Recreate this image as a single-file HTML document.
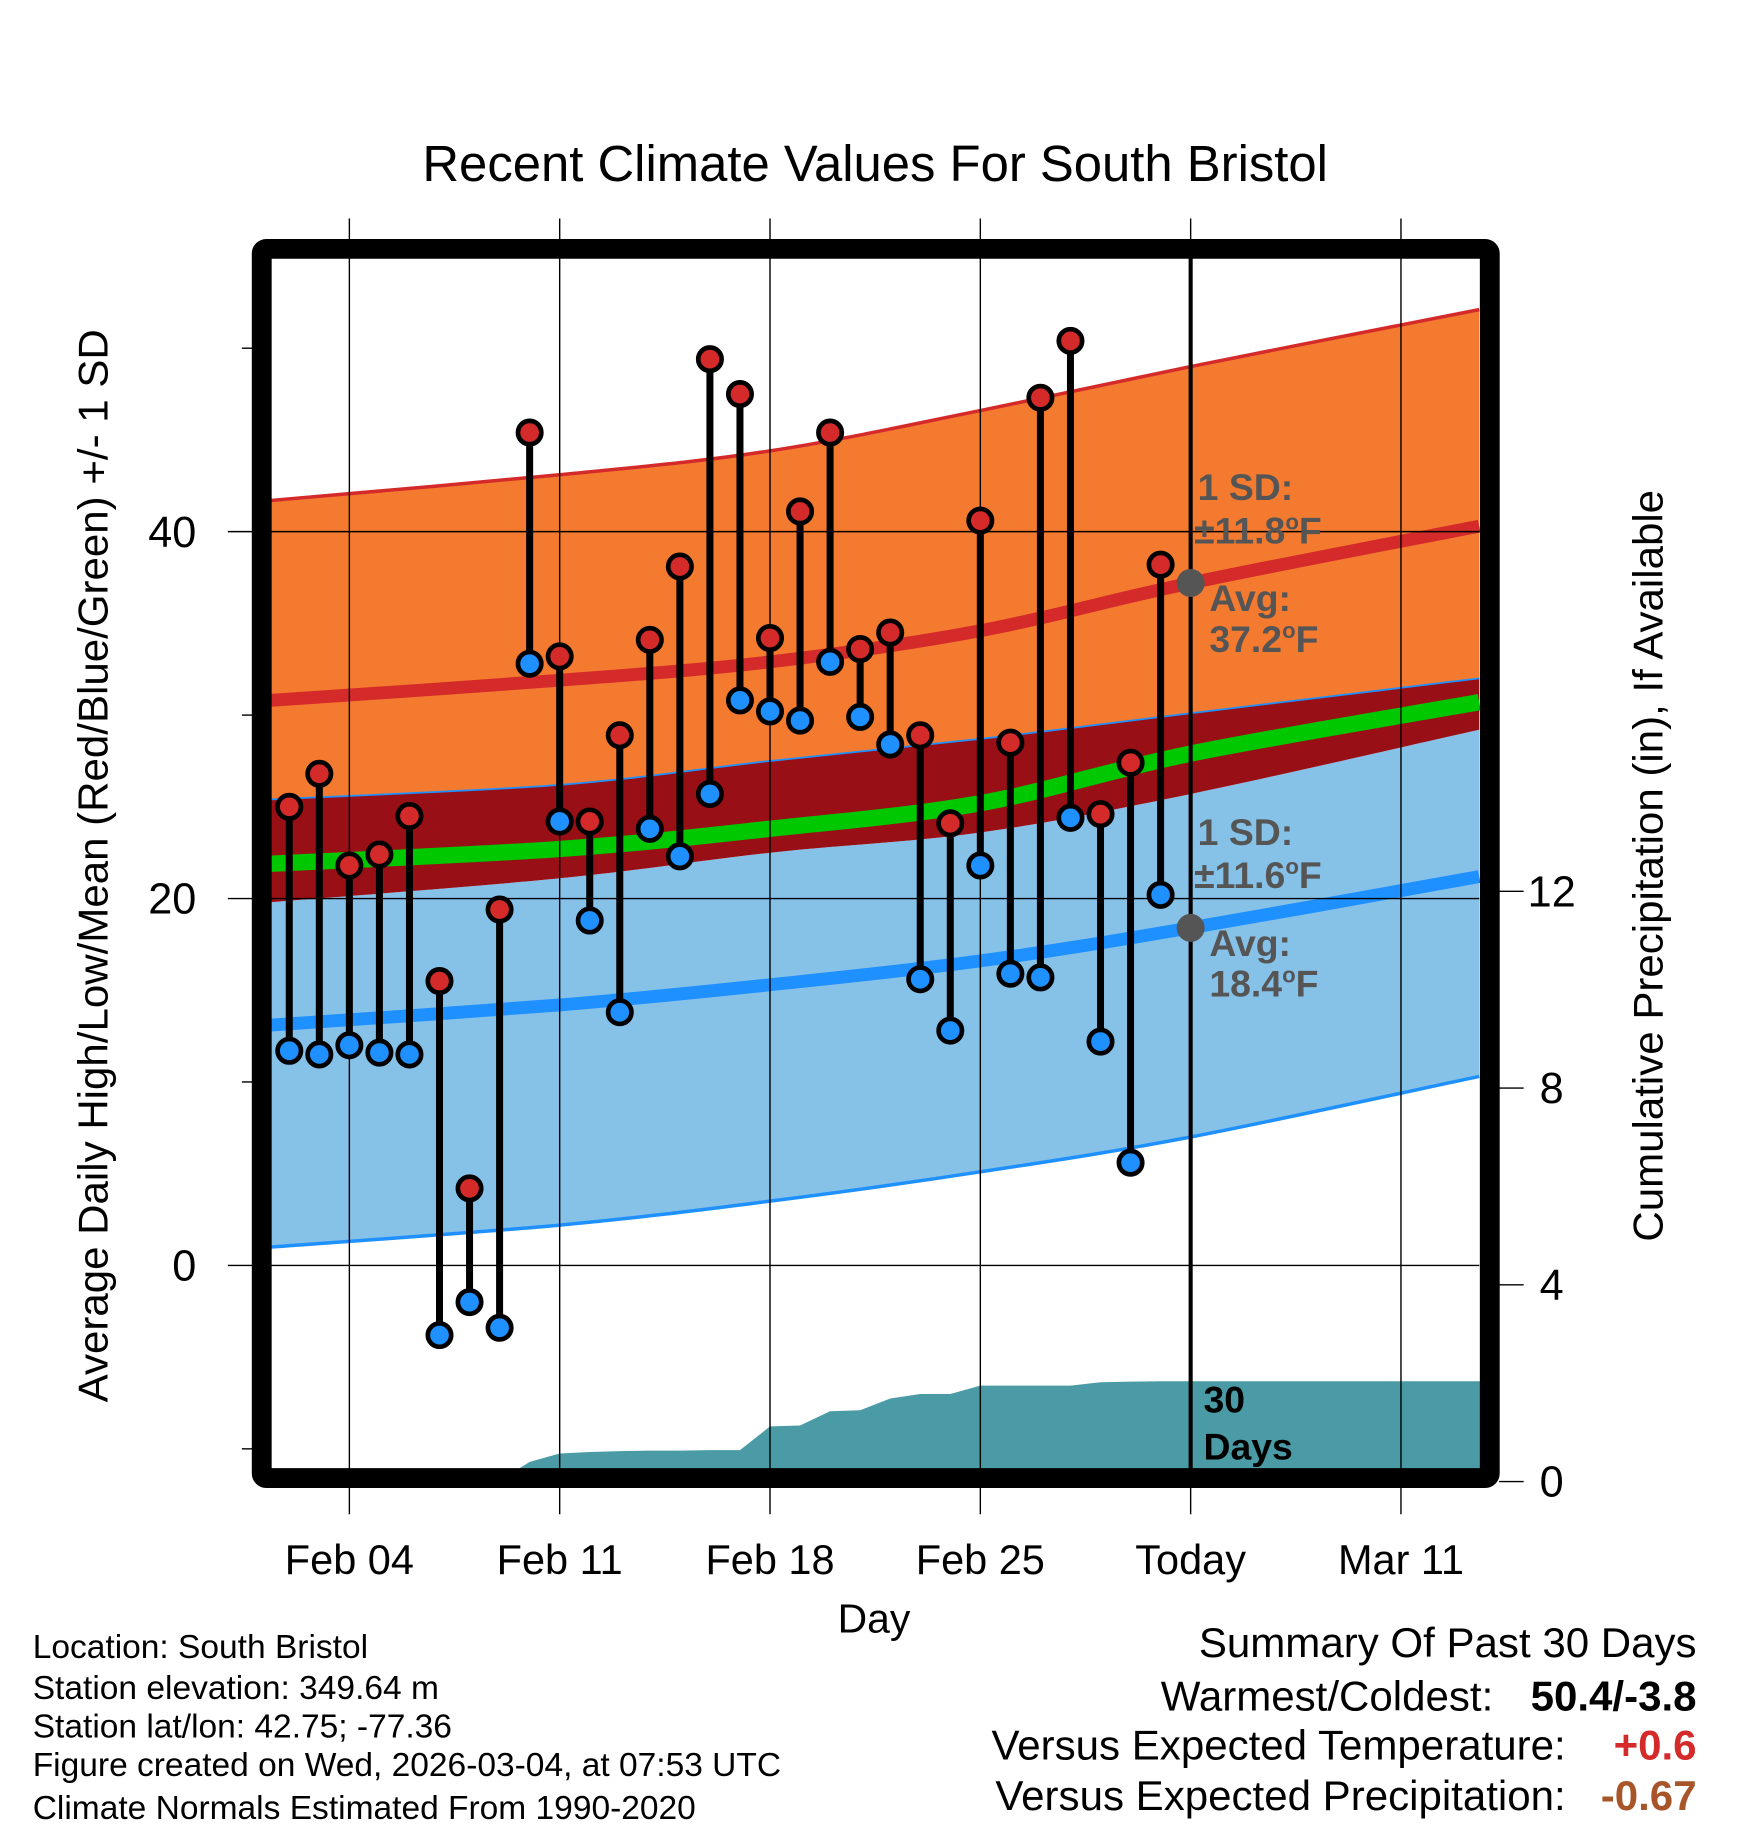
<!DOCTYPE html>
<html><head><meta charset="utf-8"><style>
html,body{margin:0;padding:0;background:#fff}
svg{display:block;font-family:"Liberation Sans",Arial,sans-serif}
</style></head><body>
<svg id="chart" width="1748" height="1828" viewBox="0 0 1496 1564.5" preserveAspectRatio="none" xmlns="http://www.w3.org/2000/svg">
<defs><clipPath id="plotclip"><rect x="232" y="221" width="1035" height="1036"/></clipPath></defs>
<g id="bands" clip-path="url(#plotclip)"></g>
<g id="grid"></g>
<g id="marks" clip-path="url(#plotclip)"></g>
<g id="annot"></g>
<rect x="224" y="213" width="1051" height="1052" rx="4" fill="none" stroke="#000" stroke-width="17"/>
<g id="axes"></g>
<text x="749" y="155" font-size="43.5" text-anchor="middle">Recent Climate Values For South Bristol</text>
<text transform="translate(92,741) rotate(-90)" font-size="36" text-anchor="middle">Average Daily High/Low/Mean (Red/Blue/Green) +/- 1 SD</text>
<text transform="translate(1423,741) rotate(-90)" font-size="36" text-anchor="middle">Cumulative Precipitation (in), If Available</text>
<text x="748" y="1397" font-size="35" text-anchor="middle">Day</text>
<g font-size="28.7">
<text x="28" y="1419">Location: South Bristol</text>
<text x="28" y="1454">Station elevation: 349.64 m</text>
<text x="28" y="1487">Station lat/lon: 42.75; -77.36</text>
<text x="28" y="1520">Figure created on Wed, 2026-03-04, at 07:53 UTC</text>
<text x="28" y="1557">Climate Normals Estimated From 1990-2020</text>
</g>
<g font-size="36">
<text x="1452" y="1418" text-anchor="end">Summary Of Past 30 Days</text>
<text x="1278" y="1464" text-anchor="end">Warmest/Coldest:</text>
<text x="1452" y="1464" text-anchor="end" font-weight="bold">50.4/-3.8</text>
<text x="1340" y="1506" text-anchor="end">Versus Expected Temperature:</text>
<text x="1452" y="1506" text-anchor="end" font-weight="bold" fill="#d42a2a">+0.6</text>
<text x="1340" y="1549" text-anchor="end">Versus Expected Precipitation:</text>
<text x="1452" y="1549" text-anchor="end" font-weight="bold" fill="#a8552a">-0.67</text>
</g>
</svg>
<script>
const dataDays = [-2,-1,0,1,2,3,4,5,6,7,8,9,10,11,12,13,14,15,16,17,18,19,20,21,22,23,24,25,26,27];
const highs = [25.0,26.8,21.8,22.4,24.5,15.5,4.2,19.4,45.4,33.2,24.2,28.9,34.1,38.1,49.4,47.5,34.2,41.1,45.4,33.6,34.5,28.9,24.1,40.6,28.5,47.3,50.4,24.6,27.4,38.2];
const lows = [11.7,11.5,12.0,11.6,11.5,-3.8,-2.0,-3.4,32.8,24.2,18.8,13.8,23.8,22.3,25.7,30.8,30.2,29.7,32.9,29.9,28.4,15.6,12.8,21.8,15.9,15.7,24.4,12.2,5.6,20.2];
const precip = [0,0,0,0,0,0,0,0.02,0.4,0.57,0.6,0.62,0.63,0.63,0.64,0.64,1.12,1.14,1.43,1.45,1.69,1.78,1.78,1.95,1.95,1.95,1.95,2.02,2.03,2.04];
const normDays = [-2.6,7,14,21,28,37.6];
const highUpper = [41.7,43.1,44.4,46.6,49.0,52.1];
const highMean = [30.8,31.9,32.9,34.6,37.2,40.3];
const highLower = [25.4,26.2,27.5,28.7,30.1,32.0];
const meanLine = [21.9,22.7,23.8,25.2,27.9,30.7];
const lowUpper = [19.8,21.1,22.5,23.6,25.7,29.2];
const lowMean = [13.1,14.2,15.3,16.6,18.4,21.2];
const lowLower = [1.0,2.2,3.5,5.1,7.0,10.3];
const xTickDays = [0,7,14,21,28,35];
const xTickLabels = ["Feb 04","Feb 11","Feb 18","Feb 25","Today","Mar 11"];
const yTicks = [0,20,40];
const yMinor = [-10,10,30,50];
const y2Ticks = [0,4,8,12];

const NS="http://www.w3.org/2000/svg";
const X = d => 299 + d*180/7;
const Y = t => 1083 - t*15.7;
const YP = p => 1268 - p*42.1;
function mk(parent, tag, attrs){const e=document.createElementNS(NS,tag);for(const k in attrs)e.setAttribute(k,attrs[k]);document.getElementById(parent).appendChild(e);return e;}
function pts(days, vals, f){return days.map((d,i)=>X(d).toFixed(1)+","+f(vals[i]).toFixed(1));}
function xy(vals){return normDays.map((d,i)=>[X(d),Y(vals[i])]);}
function smooth(p, start){
  let s = (start?"M":"L")+p[0][0].toFixed(1)+","+p[0][1].toFixed(1);
  for(let i=0;i<p.length-1;i++){
    const p0=p[Math.max(0,i-1)],p1=p[i],p2=p[i+1],p3=p[Math.min(p.length-1,i+2)];
    const c1=[p1[0]+(p2[0]-p0[0])/6,p1[1]+(p2[1]-p0[1])/6];
    const c2=[p2[0]-(p3[0]-p1[0])/6,p2[1]-(p3[1]-p1[1])/6];
    s+=" C"+c1.map(v=>v.toFixed(1))+" "+c2.map(v=>v.toFixed(1))+" "+p2.map(v=>v.toFixed(1));
  }
  return s;
}
function line(vals){return smooth(xy(vals),true);}
function band(up, lo){return smooth(xy(up),true)+" "+smooth(xy(lo).reverse(),false)+" Z";}

let e;
e=mk("bands","path",{d:band(highUpper,highLower),fill:"#f47a30"});


e=mk("bands","path",{d:band(lowUpper,lowLower),fill:"#86c1e8"});


e=mk("bands","path",{d:band(highLower,lowUpper),fill:"#981016"});


e=mk("bands","path",{d:line(highUpper),fill:"none",stroke:"#d42a2a","stroke-width":3});


e=mk("bands","path",{d:line(highLower),fill:"none",stroke:"#1e90ff","stroke-width":1.5});


e=mk("bands","path",{d:line(lowLower),fill:"none",stroke:"#1e90ff","stroke-width":3});


e=mk("bands","path",{d:line(meanLine),fill:"none",stroke:"#00c800","stroke-width":14});


e=mk("bands","path",{d:line(highMean),fill:"none",stroke:"#d42a2a","stroke-width":11});


e=mk("bands","path",{d:line(lowMean),fill:"none",stroke:"#1e90ff","stroke-width":11});


let pp = pts(dataDays,precip,YP);
pp.push(X(38)+","+YP(precip[precip.length-1]).toFixed(1), X(38)+","+YP(0), X(dataDays[0])+","+YP(0));
e=mk("bands","polygon",{points:pp.join(" "),fill:"#4a9ba5"});



xTickDays.forEach((d,i)=>{
  e=mk("grid","line",{x1:X(d),x2:X(d),y1:187,y2:1296,stroke:"#000","stroke-width":1.2});
  
  
  e=mk("axes","text",{x:X(d),y:1347,"font-size":35.5,"text-anchor":"middle"});
  e.textContent=xTickLabels[i];
  
  
});
yTicks.forEach(t=>{
  e=mk("grid","line",{x1:195,x2:1266,y1:Y(t),y2:Y(t),stroke:"#000","stroke-width":1.2});
  
  
  e=mk("axes","text",{x:168,y:Y(t)+13,"font-size":37,"text-anchor":"end"});
  e.textContent=t;
  
  
});
yMinor.forEach(t=>{
  e=mk("grid","line",{x1:207,x2:216,y1:Y(t),y2:Y(t),stroke:"#000","stroke-width":1.2});
  
  
});
y2Ticks.forEach(p=>{
  e=mk("axes","line",{x1:1283,x2:1304,y1:YP(p),y2:YP(p),stroke:"#000","stroke-width":1.2});
  
  
  e=mk("axes","text",{x:1328,y:YP(p)+13,"font-size":37,"text-anchor":"middle"});
  e.textContent=p;
  
  
});

e=mk("marks","line",{x1:X(28),x2:X(28),y1:215,y2:1262,stroke:"#000","stroke-width":3.5});



dataDays.forEach((d,i)=>{
  e=mk("marks","line",{x1:X(d),x2:X(d),y1:Y(highs[i]),y2:Y(lows[i]),stroke:"#000","stroke-width":6});
  
  
  e=mk("marks","circle",{cx:X(d),cy:Y(highs[i]),r:10,fill:"#d42a2a",stroke:"#000","stroke-width":4});
  
  
  e=mk("marks","circle",{cx:X(d),cy:Y(lows[i]),r:10,fill:"#1e90ff",stroke:"#000","stroke-width":4});
  
  
});

const todayHigh = highMean[4], todayLow = lowMean[4];
e=mk("annot","circle",{cx:X(28),cy:Y(todayHigh),r:12,fill:"#555"});


e=mk("annot","circle",{cx:X(28),cy:Y(todayLow),r:12,fill:"#555"});


function lab(x,y,html,name,fill){
  const t=mk("annot","text",{x:x,y:y,"font-size":32,"font-weight":"bold",fill:fill||"#555"});
  t.innerHTML=html;
  
  
}
lab(1025,428,"1 SD:","high-sd-label");
lab(1022,465,'±11.8<tspan font-size="19" dy="-12">o</tspan><tspan dy="12">F</tspan>',"high-sd-value");
lab(1035,523,"Avg:","high-avg-label");
lab(1035,558,'37.2<tspan font-size="19" dy="-12">o</tspan><tspan dy="12">F</tspan>',"high-avg-value");
lab(1025,723,"1 SD:","low-sd-label");
lab(1022,760,'±11.6<tspan font-size="19" dy="-12">o</tspan><tspan dy="12">F</tspan>',"low-sd-value");
lab(1035,818,"Avg:","low-avg-label");
lab(1035,853,'18.4<tspan font-size="19" dy="-12">o</tspan><tspan dy="12">F</tspan>',"low-avg-value");
lab(1030,1209,"30","days-count-label","#000");
lab(1030,1249,"Days","days-label","#000");
</script>
</body></html>
